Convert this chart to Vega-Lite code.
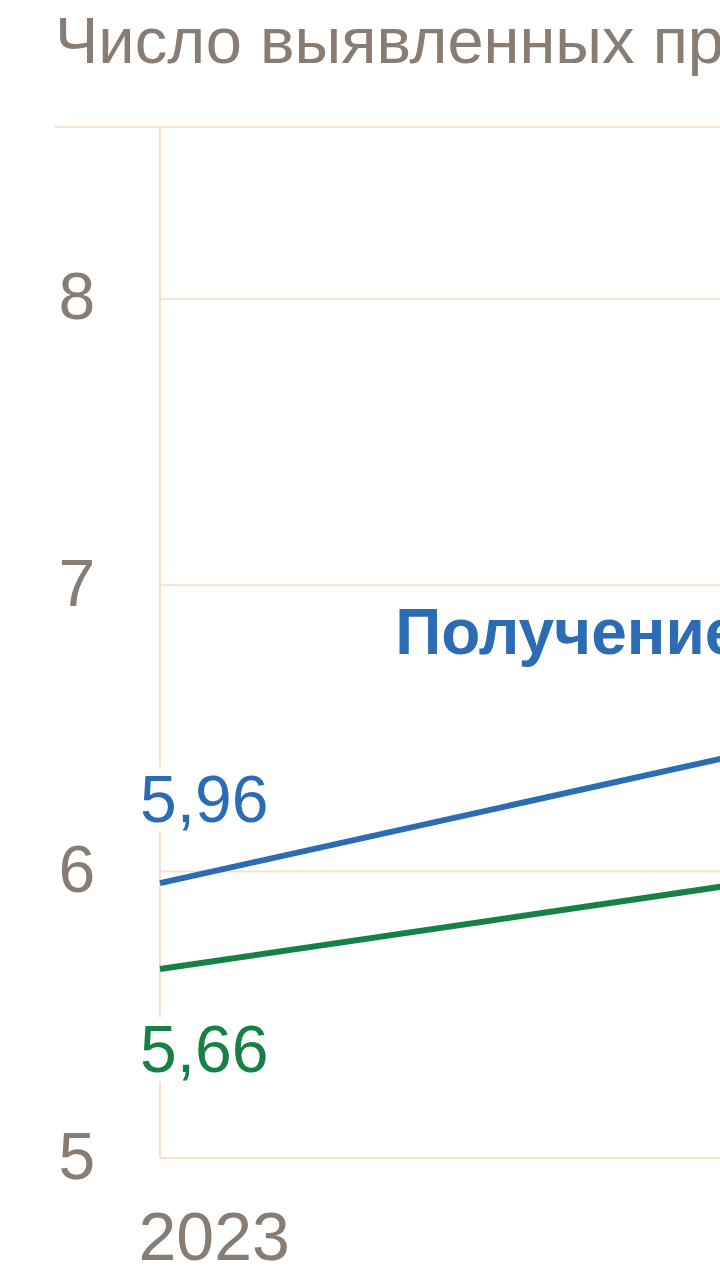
{
  "$schema": "https://vega.github.io/schema/vega-lite/v6.json",
  "autosize": "none",
  "width": 665,
  "height": 1031,
  "padding": {"left": 55, "top": 127, "right": 0, "bottom": 122},
  "background": "white",
  "title": {
    "text": "Число выявленных преступлений",
    "anchor": "start",
    "frame": "group",
    "font": "Liberation Sans",
    "fontSize": 65,
    "fontWeight": "normal",
    "color": "#877d74",
    "offset": 49
  },
  "datasets": {
    "series": [
      {"year": 2023, "value": 5.96, "series": "Получение взятки", "label": "5,96"},
      {"year": 2024, "value": 6.61, "series": "Получение взятки", "label": ""},
      {"year": 2023, "value": 5.66, "series": "Дача взятки", "label": "5,66"},
      {"year": 2024, "value": 6.09, "series": "Дача взятки", "label": ""}
    ],
    "grid": [{"v": 5}, {"v": 6}, {"v": 7}, {"v": 8}]
  },
  "layer": [
    {
      "data": {"name": "grid"},
      "mark": {"type": "rule", "color": "#f7e1cd", "strokeWidth": 2},
      "encoding": {
        "y": {"field": "v", "type": "quantitative", "scale": {"domain": [5, 8.6], "nice": false, "zero": false},
          "axis": {"values": [5, 6, 7, 8], "format": "d", "orient": "left", "labelAlign": "left", "labelPadding": -3, "ticks": false, "tickSize": 0, "domain": false, "grid": false, "labelFont": "Liberation Sans", "labelFontSize": 66, "labelColor": "#877d74", "labelBaseline": "middle", "labelFlush": false, "title": null}},
        "x": {"datum": 2023, "type": "quantitative", "scale": {"domain": [2022.875, 2023.6667], "nice": false, "zero": false},
          "axis": {"values": [2023], "format": "d", "orient": "bottom", "labelAlign": "left", "labelOffset": -22, "labelPadding": 47, "ticks": false, "tickSize": 0, "domain": false, "grid": false, "labelFont": "Liberation Sans", "labelFontSize": 68, "labelColor": "#877d74", "labelFlush": false, "title": null}},
        "x2": {"datum": 2023.6667}
      }
    },
    {
      "data": {"values": [{}]},
      "mark": {"type": "rule", "color": "#f7e1cd", "strokeWidth": 2},
      "encoding": {
        "y": {"datum": 8.6, "type": "quantitative"},
        "x": {"datum": 2022.875, "type": "quantitative"},
        "x2": {"datum": 2023.6667}
      }
    },
    {
      "data": {"values": [{}]},
      "mark": {"type": "rule", "color": "#f7e1cd", "strokeWidth": 2},
      "encoding": {
        "x": {"datum": 2023, "type": "quantitative"},
        "y": {"datum": 5, "type": "quantitative"},
        "y2": {"datum": 8.6}
      }
    },
    {
      "data": {"name": "series"},
      "mark": {"type": "line", "strokeWidth": 6, "clip": true},
      "encoding": {
        "x": {"field": "year", "type": "quantitative"},
        "y": {"field": "value", "type": "quantitative"},
        "color": {"field": "series", "type": "nominal", "scale": {"domain": ["Получение взятки", "Дача взятки"], "range": ["#2b6cb5", "#168045"]}, "legend": null}
      }
    },
    {
      "data": {"name": "series"},
      "transform": [{"filter": "datum.year == 2023 && datum.series == 'Получение взятки'"}],
      "mark": {"type": "text", "align": "left", "baseline": "alphabetic", "dx": -20, "dy": -61, "font": "Liberation Sans", "fontSize": 66, "fill": "white", "stroke": "white", "strokeWidth": 18},
      "encoding": {"x": {"field": "year", "type": "quantitative"}, "y": {"field": "value", "type": "quantitative"}, "text": {"field": "label"}}
    },
    {
      "data": {"name": "series"},
      "transform": [{"filter": "datum.year == 2023 && datum.series == 'Получение взятки'"}],
      "mark": {"type": "text", "align": "left", "baseline": "alphabetic", "dx": -20, "dy": -61, "font": "Liberation Sans", "fontSize": 66, "color": "#2b6cb5"},
      "encoding": {"x": {"field": "year", "type": "quantitative"}, "y": {"field": "value", "type": "quantitative"}, "text": {"field": "label"}}
    },
    {
      "data": {"name": "series"},
      "transform": [{"filter": "datum.year == 2023 && datum.series == 'Дача взятки'"}],
      "mark": {"type": "text", "align": "left", "baseline": "alphabetic", "dx": -20, "dy": 103, "font": "Liberation Sans", "fontSize": 66, "fill": "white", "stroke": "white", "strokeWidth": 18},
      "encoding": {"x": {"field": "year", "type": "quantitative"}, "y": {"field": "value", "type": "quantitative"}, "text": {"field": "label"}}
    },
    {
      "data": {"name": "series"},
      "transform": [{"filter": "datum.year == 2023 && datum.series == 'Дача взятки'"}],
      "mark": {"type": "text", "align": "left", "baseline": "alphabetic", "dx": -20, "dy": 103, "font": "Liberation Sans", "fontSize": 66, "color": "#168045"},
      "encoding": {"x": {"field": "year", "type": "quantitative"}, "y": {"field": "value", "type": "quantitative"}, "text": {"field": "label"}}
    },
    {
      "data": {"values": [{"name": "Получение взятки"}]},
      "mark": {"type": "text", "align": "left", "baseline": "alphabetic", "font": "Liberation Sans", "fontSize": 64, "fontWeight": "bold", "color": "#2b6cb5"},
      "encoding": {
        "x": {"datum": 2023.28, "type": "quantitative"},
        "y": {"datum": 6.76, "type": "quantitative"},
        "text": {"field": "name"}
      }
    }
  ],
  "config": {"view": {"stroke": null}}
}
